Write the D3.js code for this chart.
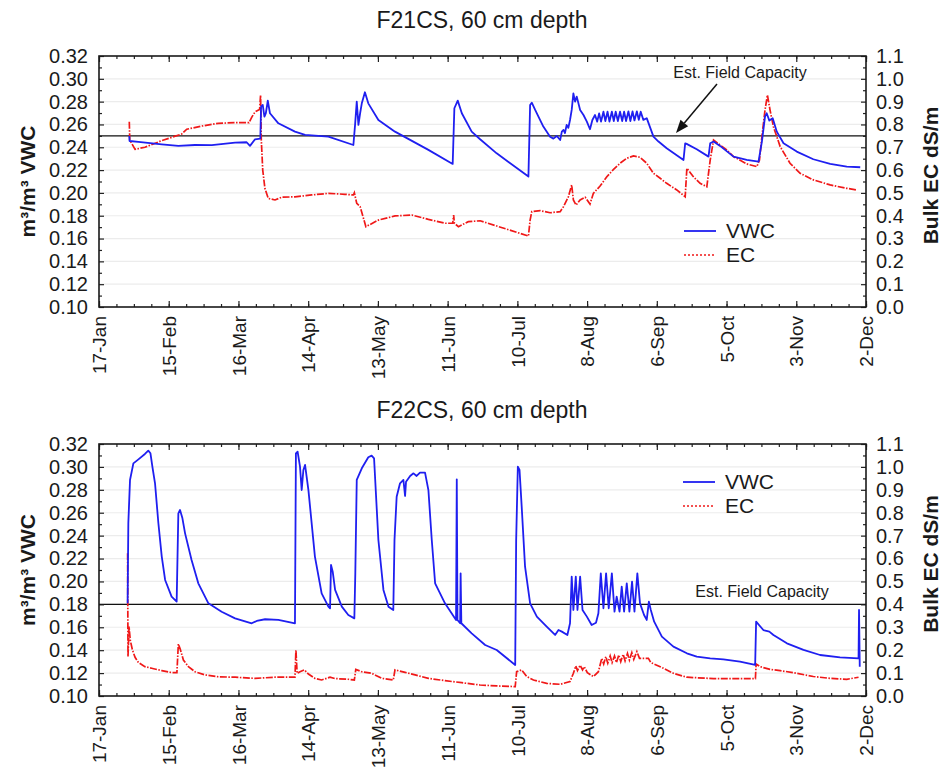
<!DOCTYPE html>
<html><head><meta charset="utf-8">
<script src="https://cdn.jsdelivr.net/npm/d3@7"></script>
<style>
body{margin:0;background:#fff}
svg{display:block}
text{font-family:"Liberation Sans",Arial,Helvetica,sans-serif;fill:#1a1a1a}
</style>
</head><body>
<svg id="chart" width="942" height="770"></svg>
<script>
// ---- tick labels (x axis: days since 17-Jan, every 29 days) ----
const dateLabels = ["17-Jan","15-Feb","16-Mar","14-Apr","13-May","11-Jun","10-Jul","8-Aug","6-Sep","5-Oct","3-Nov","2-Dec"];
const dateTickDays = [0,29,58,87,116,145,174,203,232,261,290,319];
const vwcTicks = [0.10,0.12,0.14,0.16,0.18,0.20,0.22,0.24,0.26,0.28,0.30,0.32];
const ecTicks = [0.0,0.1,0.2,0.3,0.4,0.5,0.6,0.7,0.8,0.9,1.0,1.1];
const seriesNames = ["VWC","EC"];
const panelTitles = ["F21CS, 60 cm depth","F22CS, 60 cm depth"];
const fieldCapacity = [0.25,0.18];

// ---- F21CS VWC ----
const f21VwcDay = [12.6,12.7,16.4,26.1,33.0,39.9,46.9,56.6,61.4,62.8,64.9,67.1,67.4,68.1,68.8,69.4,70.2,71.1,74.6,81.5,85.7,95.4,105.8,106.5,107.2,107.9,108.6,109.3,110.6,112.0,116.2,123.1,137.0,147.1,147.8,149.2,150.9,155.0,158.5,165.4,178.6,179.3,180.0,181.4,184.8,187.6,189.0,190.4,191.8,192.5,193.2,193.8,194.5,195.2,195.9,196.6,197.3,198.0,198.7,200.1,201.5,202.9,204.2,205.2,206.3,207.2,208.0,208.8,209.8,210.6,211.5,212.3,213.3,214.1,214.9,215.8,216.7,217.6,218.4,219.2,220.2,221.0,221.9,222.7,223.7,224.5,225.3,226.4,227.8,230.6,232.7,236.1,243.1,243.8,244.4,248.6,253.5,254.2,255.6,258.3,263.9,269.4,274.3,275.7,277.0,277.7,278.8,280.2,281.9,284.7,290.2,297.1,304.1,311.0,316.6];
const f21Vwc = [0.2499,0.2455,0.2447,0.2426,0.2412,0.2420,0.2418,0.2441,0.2444,0.2412,0.2470,0.2476,0.2756,0.2771,0.2669,0.2700,0.2809,0.2698,0.2610,0.2537,0.2508,0.2493,0.2420,0.2596,0.2800,0.2596,0.2698,0.2785,0.2882,0.2785,0.2639,0.2537,0.2377,0.2254,0.2742,0.2809,0.2698,0.2537,0.2470,0.2347,0.2143,0.2771,0.2791,0.2727,0.2581,0.2493,0.2476,0.2499,0.2464,0.2537,0.2552,0.2525,0.2596,0.2570,0.2639,0.2727,0.2873,0.2800,0.2844,0.2727,0.2683,0.2625,0.2558,0.2639,0.2683,0.2625,0.2697,0.2625,0.2712,0.2630,0.2712,0.2625,0.2712,0.2630,0.2712,0.2630,0.2712,0.2630,0.2712,0.2630,0.2715,0.2630,0.2715,0.2635,0.2715,0.2640,0.2712,0.2640,0.2655,0.2493,0.2450,0.2391,0.2289,0.2435,0.2430,0.2382,0.2318,0.2435,0.2450,0.2412,0.2318,0.2289,0.2274,0.2450,0.2669,0.2698,0.2634,0.2654,0.2537,0.2435,0.2362,0.2295,0.2254,0.2231,0.2225];

// ---- F21CS EC ----
const f21EcDay = [12.6,12.8,15.0,19.1,26.1,34.4,36.5,42.7,49.6,56.6,62.4,63.5,64.9,66.8,67.2,67.5,68.1,69.0,70.4,73.2,76.0,81.5,88.5,95.4,102.3,105.8,106.2,107.2,108.6,111.0,116.2,123.1,130.1,137.0,143.9,147.1,147.5,147.8,149.5,153.6,158.5,178.6,179.3,180.0,183.5,187.6,191.8,193.2,195.2,196.6,197.3,198.4,200.1,202.2,204.2,205.6,208.4,211.2,214.0,216.7,219.5,222.3,225.0,227.8,230.6,233.4,236.1,240.3,243.8,244.5,247.2,250.0,252.8,254.2,255.6,258.3,261.1,263.9,269.4,273.6,274.7,275.7,277.0,278.0,279.1,280.5,283.3,287.4,291.6,297.1,304.1,311.0,315.2];
const f21Ec = [0.812,0.732,0.691,0.700,0.729,0.758,0.779,0.793,0.805,0.808,0.808,0.831,0.855,0.866,0.929,0.732,0.600,0.520,0.476,0.469,0.481,0.483,0.491,0.498,0.494,0.491,0.501,0.454,0.440,0.352,0.381,0.399,0.403,0.384,0.367,0.367,0.403,0.367,0.352,0.374,0.378,0.311,0.381,0.418,0.422,0.413,0.418,0.440,0.483,0.535,0.469,0.447,0.469,0.481,0.451,0.498,0.530,0.571,0.603,0.630,0.652,0.662,0.656,0.630,0.586,0.564,0.542,0.513,0.483,0.608,0.571,0.542,0.527,0.644,0.732,0.710,0.688,0.659,0.627,0.615,0.644,0.746,0.863,0.929,0.863,0.790,0.703,0.630,0.586,0.557,0.535,0.520,0.513];

// ---- F22CS VWC ----
const f22VwcDay = [11.9,12.2,12.9,14.3,16.4,19.1,20.5,21.4,22.2,23.3,24.7,26.1,27.5,30.2,32.3,33.0,33.7,34.7,35.8,38.5,41.3,45.5,51.0,56.6,63.5,65.6,69.1,74.6,81.5,81.9,82.6,83.6,84.3,85.0,85.7,87.1,89.8,92.6,95.4,96.1,96.5,97.2,98.2,101.0,103.7,106.2,106.6,107.2,109.3,112.0,113.4,114.4,116.2,118.3,120.4,122.4,122.9,123.8,125.2,126.6,127.3,127.7,129.4,130.8,132.1,133.5,135.6,137.0,138.4,139.8,143.9,148.5,148.8,149.1,150.2,150.4,150.7,155.0,160.6,165.4,173.1,173.5,174.2,174.9,175.8,177.2,179.3,182.1,186.2,189.7,191.1,192.5,194.8,195.9,196.6,197.3,198.3,199.0,200.1,201.1,202.9,204.9,206.7,207.7,208.7,209.8,210.9,212.0,213.3,214.4,215.3,216.5,217.4,218.4,219.5,220.6,221.7,222.7,223.9,225.0,226.7,227.8,228.7,229.5,230.9,234.1,238.9,244.5,248.6,254.2,259.7,266.6,272.9,273.3,276.3,278.8,280.5,286.1,293.0,299.9,308.2,315.9,316.1,316.4];
const f22Vwc = [0.181,0.251,0.2886,0.3031,0.3066,0.3113,0.3142,0.3119,0.3002,0.2857,0.2508,0.2217,0.2013,0.1867,0.1824,0.2595,0.2624,0.2551,0.2420,0.2187,0.1984,0.1809,0.1736,0.1678,0.1635,0.1655,0.1670,0.1664,0.1635,0.3119,0.3133,0.3002,0.2798,0.2973,0.3017,0.2798,0.2217,0.1896,0.1780,0.1766,0.2144,0.2086,0.1926,0.1780,0.1707,0.1678,0.2071,0.2886,0.2988,0.3084,0.3098,0.3075,0.2362,0.1926,0.1780,0.1751,0.2362,0.2740,0.2857,0.2886,0.2746,0.2871,0.2921,0.2944,0.2921,0.2950,0.2950,0.2798,0.2362,0.1984,0.1809,0.1664,0.2892,0.1664,0.1635,0.2071,0.1635,0.1547,0.1445,0.1402,0.1271,0.2362,0.3002,0.2973,0.2653,0.2129,0.1809,0.1693,0.1605,0.1533,0.1576,0.1562,0.1533,0.1635,0.2042,0.1751,0.2042,0.1751,0.2042,0.1751,0.1693,0.1620,0.1640,0.1722,0.2071,0.1766,0.2071,0.1766,0.2071,0.1736,0.1867,0.1736,0.1955,0.1736,0.1984,0.1736,0.1998,0.1736,0.2071,0.1809,0.1707,0.1664,0.1824,0.1751,0.1649,0.1518,0.1431,0.1373,0.1344,0.1329,0.1320,0.1300,0.1271,0.1649,0.1576,0.1562,0.1533,0.1460,0.1402,0.1358,0.1338,0.1329,0.1751,0.1256];

// ---- F22CS EC ----
const f22EcDay = [11.9,12.06,12.5,13.0,13.9,15.0,16.4,19.1,21.9,26.1,30.2,32.4,33.0,33.8,35.1,37.2,39.9,44.1,49.6,56.6,64.9,73.2,81.5,81.9,82.4,83.6,85.4,87.1,89.8,92.6,96.1,98.2,103.7,106.2,106.8,109.3,113.4,117.6,122.4,123.1,127.3,131.5,137.0,143.9,150.9,158.5,165.4,173.1,173.7,175.8,177.9,180.7,186.2,191.8,195.9,197.3,198.3,199.0,200.1,201.1,201.8,203.1,205.6,207.7,209.1,209.9,210.8,211.6,212.6,213.4,214.4,215.2,216.2,217.0,218.0,218.8,219.8,220.6,221.6,222.4,223.7,224.8,226.4,228.5,229.5,233.4,238.9,244.5,255.6,273.0,273.3,275.0,279.1,283.3,290.2,297.1,304.1,311.0,315.9];
const f22Ec = [0.623,0.172,0.303,0.244,0.201,0.169,0.146,0.128,0.121,0.111,0.102,0.102,0.227,0.204,0.157,0.128,0.106,0.092,0.084,0.082,0.077,0.082,0.082,0.201,0.099,0.106,0.114,0.096,0.077,0.070,0.082,0.076,0.073,0.070,0.116,0.106,0.099,0.077,0.070,0.114,0.103,0.092,0.077,0.067,0.058,0.048,0.044,0.041,0.106,0.114,0.085,0.070,0.055,0.051,0.063,0.099,0.131,0.111,0.134,0.114,0.128,0.102,0.085,0.106,0.164,0.140,0.172,0.143,0.175,0.146,0.175,0.146,0.179,0.150,0.182,0.153,0.186,0.157,0.189,0.160,0.194,0.164,0.164,0.164,0.146,0.128,0.099,0.082,0.076,0.076,0.140,0.128,0.116,0.111,0.099,0.085,0.077,0.073,0.082];

// ---- layout ----
const svg = d3.select("#chart");
const L = 99, R = 866;
const blue = "#1f1ff0", red = "#f01818";
const panels = [
  {title: panelTitles[0], top: 56, bottom: 307, titleY: 28, fc: fieldCapacity[0],
   vd: f21VwcDay, vv: f21Vwc, ed: f21EcDay, ev: f21Ec,
   legX: 684, legY: 231, fcX: 740, fcY: 78, arrow: true},
  {title: panelTitles[1], top: 444, bottom: 696, titleY: 418, fc: fieldCapacity[1],
   vd: f22VwcDay, vv: f22Vwc, ed: f22EcDay, ev: f22Ec,
   legX: 683, legY: 482, fcX: 762, fcY: 597, arrow: false}
];

const x = d3.scaleLinear().domain([0, 319]).range([L, R]);
const minorDays = d3.range(0, 319.01, 7.25);

panels.forEach(p => {
  const g = svg.append("g");
  const yL = d3.scaleLinear().domain([0.10, 0.32]).range([p.bottom, p.top]);
  const yR = d3.scaleLinear().domain([0, 1.1]).range([p.bottom, p.top]);

  // faint gridlines
  g.append("g").selectAll("line").data(vwcTicks.slice(1, -1)).join("line")
    .attr("x1", L).attr("x2", R).attr("y1", d => yL(d)).attr("y2", d => yL(d))
    .attr("stroke", "#ececec").attr("stroke-width", 1.2);

  // field capacity line
  g.append("line").attr("x1", L).attr("x2", R)
    .attr("y1", yL(p.fc)).attr("y2", yL(p.fc))
    .attr("stroke", "#111").attr("stroke-width", 1.4);

  // EC series
  const ecLine = d3.line().x(d => x(d[0])).y(d => yR(d[1]));
  g.append("path").datum(p.ed.map((d, i) => [d, p.ev[i]]))
    .attr("d", ecLine).attr("fill", "none").attr("stroke", red)
    .attr("stroke-width", 1.7).attr("stroke-dasharray", "7,1.5,1.5,1.5");

  // VWC series
  const vLine = d3.line().x(d => x(d[0])).y(d => yL(d[1]));
  g.append("path").datum(p.vd.map((d, i) => [d, p.vv[i]]))
    .attr("d", vLine).attr("fill", "none").attr("stroke", blue)
    .attr("stroke-width", 1.8).attr("stroke-linejoin", "round");

  // axes
  g.append("g").attr("transform", `translate(0,${p.bottom})`)
    .call(d3.axisBottom(x).tickValues(minorDays).tickSize(-3).tickFormat(""));
  const axBM = g.append("g").attr("transform", `translate(0,${p.bottom})`)
    .call(d3.axisBottom(x).tickValues(dateTickDays).tickSize(-6)
      .tickFormat((d, i) => dateLabels[i]));
  axBM.selectAll("text")
    .attr("transform", "rotate(-90)").attr("x", -9).attr("y", 0)
    .attr("dy", "0.35em").attr("text-anchor", "end")
    .style("font-size", "19px");
  g.append("g").attr("transform", `translate(0,${p.top})`)
    .call(d3.axisTop(x).tickValues(minorDays).tickSize(-3).tickFormat(""));
  g.append("g").attr("transform", `translate(0,${p.top})`)
    .call(d3.axisTop(x).tickValues(dateTickDays).tickSize(-6).tickFormat(""));

  const axLeft = g.append("g").attr("transform", `translate(${L},0)`)
    .call(d3.axisLeft(yL).tickValues(vwcTicks).tickSize(-5).tickPadding(11)
      .tickFormat(d3.format(".2f")));
  axLeft.selectAll("text").style("font-size", "20px");
  g.append("g").attr("transform", `translate(${L},0)`)
    .call(d3.axisLeft(yL).tickValues(d3.range(0.11, 0.32, 0.02)).tickSize(-3).tickFormat(""));

  const axRight = g.append("g").attr("transform", `translate(${R},0)`)
    .call(d3.axisRight(yR).tickValues(ecTicks).tickSize(-5).tickPadding(10)
      .tickFormat(d3.format(".1f")));
  axRight.selectAll("text").style("font-size", "20px");
  g.append("g").attr("transform", `translate(${R},0)`)
    .call(d3.axisRight(yR).tickValues(d3.range(0.05, 1.1, 0.1)).tickSize(-3).tickFormat(""));

  g.selectAll(".domain").remove();
  g.selectAll(".tick line").attr("stroke", "#222").attr("stroke-width", 1.2);
  g.selectAll(".tick text").attr("fill", "#1a1a1a")
    .style("font-family", "'Liberation Sans', Arial, sans-serif");

  // frame
  g.append("rect").attr("x", L).attr("y", p.top).attr("width", R - L)
    .attr("height", p.bottom - p.top).attr("fill", "none")
    .attr("stroke", "#1a1a1a").attr("stroke-width", 1.6);

  // title
  g.append("text").attr("x", 482).attr("y", p.titleY).attr("text-anchor", "middle")
    .style("font-size", "23px").text(p.title);

  // axis titles
  const midY = (p.top + p.bottom) / 2;
  g.append("text").attr("transform", `translate(35,${midY}) rotate(-90)`)
    .attr("text-anchor", "middle").style("font-size", "21px").style("font-weight", "bold")
    .text("m³/m³ VWC");
  g.append("text").attr("transform", `translate(938,${midY - 6}) rotate(-90)`)
    .attr("text-anchor", "middle").style("font-size", "21px").style("font-weight", "bold")
    .text("Bulk EC dS/m");

  // legend
  g.append("line").attr("x1", p.legX).attr("x2", p.legX + 32)
    .attr("y1", p.legY).attr("y2", p.legY).attr("stroke", blue).attr("stroke-width", 1.8);
  g.append("text").attr("x", p.legX + 42).attr("y", p.legY).attr("dy", "0.35em")
    .style("font-size", "21px").text(seriesNames[0]);
  g.append("line").attr("x1", p.legX).attr("x2", p.legX + 32)
    .attr("y1", p.legY + 24).attr("y2", p.legY + 24).attr("stroke", red)
    .attr("stroke-width", 1.6).attr("stroke-dasharray", "2,2");
  g.append("text").attr("x", p.legX + 42).attr("y", p.legY + 24).attr("dy", "0.35em")
    .style("font-size", "21px").text(seriesNames[1]);

  // field capacity label
  g.append("text").attr("x", p.fcX).attr("y", p.fcY).attr("text-anchor", "middle")
    .style("font-size", "16px").text("Est. Field Capacity");

  if (p.arrow) {
    const x1 = 717, y1 = 84, x2 = 676, y2 = 133;
    const ang = Math.atan2(y2 - y1, x2 - x1);
    const hl = 13, hw = 5;
    const bx = x2 - hl * Math.cos(ang), by = y2 - hl * Math.sin(ang);
    g.append("line").attr("x1", x1).attr("y1", y1).attr("x2", bx).attr("y2", by)
      .attr("stroke", "#111").attr("stroke-width", 1.5);
    g.append("path").attr("d",
      `M${x2},${y2}L${bx + hw * Math.sin(ang)},${by - hw * Math.cos(ang)}L${bx - hw * Math.sin(ang)},${by + hw * Math.cos(ang)}Z`)
      .attr("fill", "#111");
  }
});
</script>
</body></html>
